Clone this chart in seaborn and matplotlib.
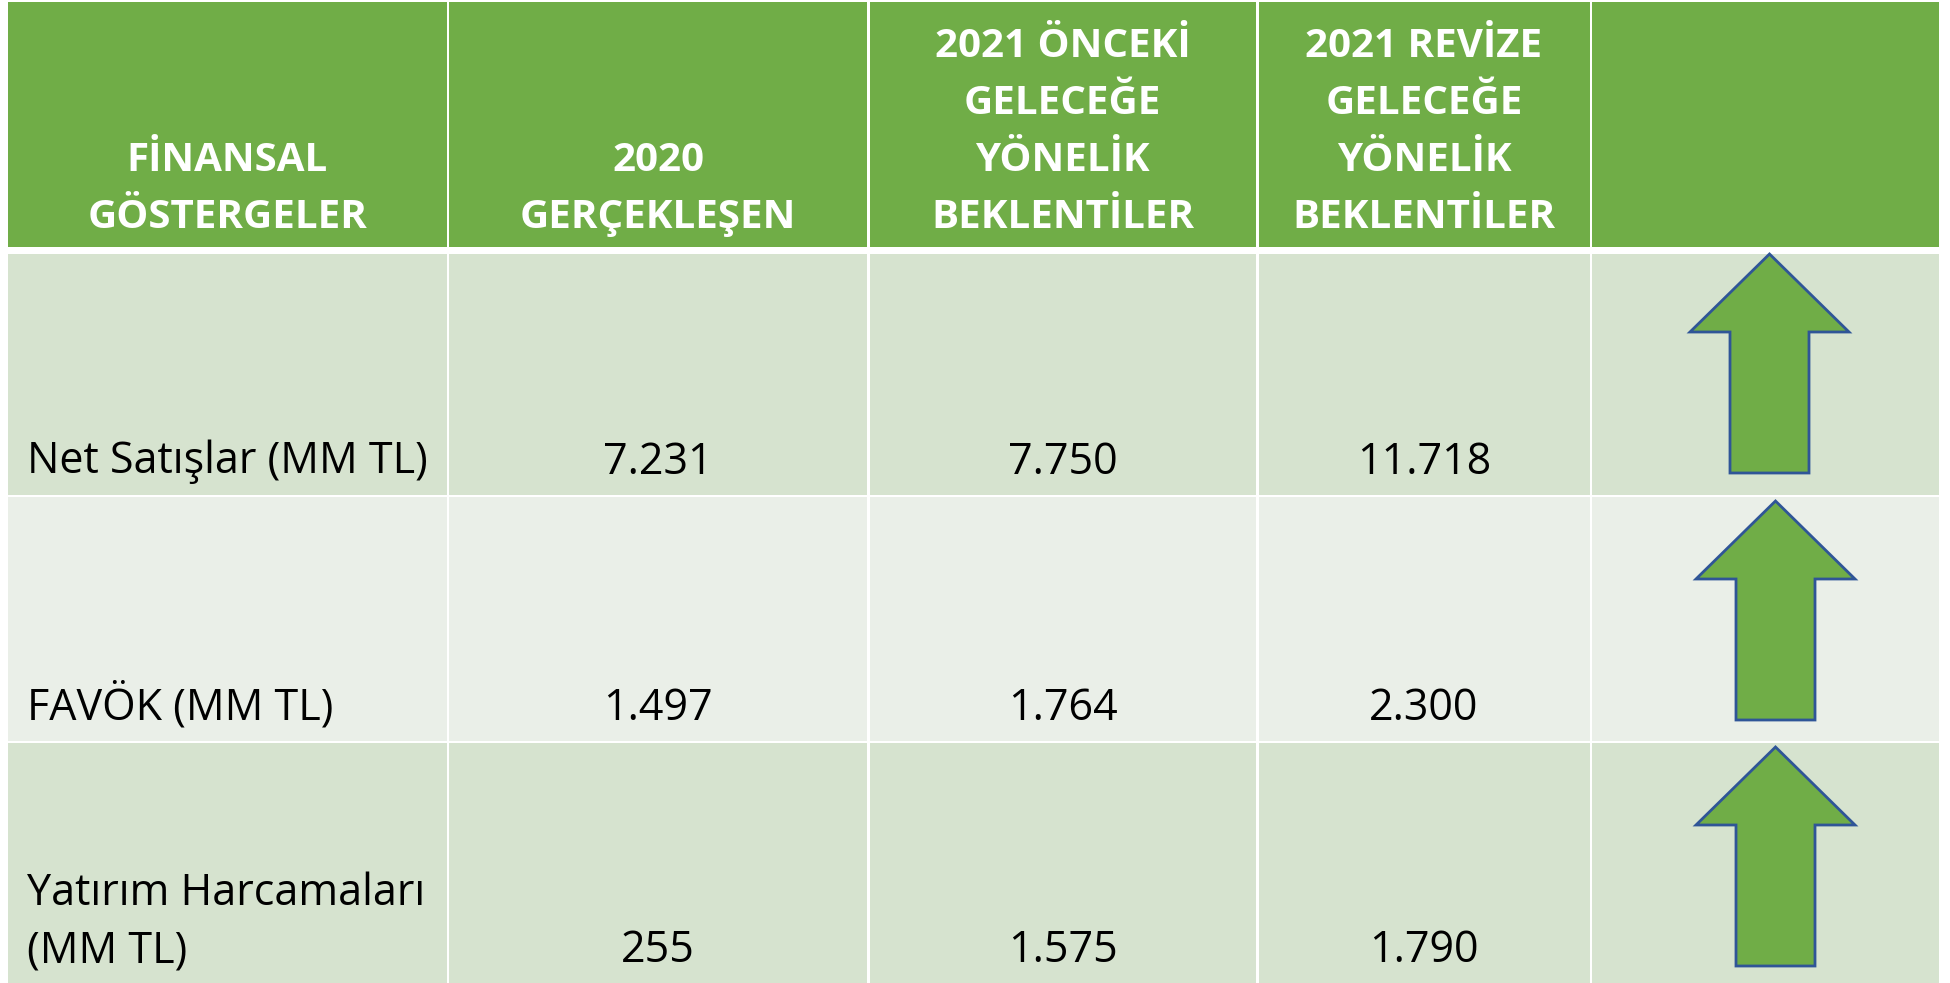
import matplotlib
matplotlib.use("Agg")
import matplotlib.pyplot as plt
import seaborn as sns
import numpy as np
from matplotlib.patches import Polygon

# table content
headers = ["FİNANSAL\nGÖSTERGELER", "2020\nGERÇEKLEŞEN",
           "2021 ÖNCEKİ\nGELECEĞE\nYÖNELİK\nBEKLENTİLER",
           "2021 REVİZE\nGELECEĞE\nYÖNELİK\nBEKLENTİLER", ""]
metrics = ["Net Satışlar (MM TL)", "FAVÖK (MM TL)", "Yatırım Harcamaları\n(MM TL)"]
actual_2020 = [7231, 1497, 255]
previous_2021 = [7750, 1764, 1575]
revised_2021 = [11718, 2300, 1790]
trend = ["up", "up", "up"]

sns.set_theme(style="white")
plt.rcParams['font.family'] = ['Open Sans', 'DejaVu Sans']

# layout (pixels)
col_edges = [7.7, 449, 869.5, 1258.5, 1592, 1939]
gap = 2.5
head_top, head_bot = 2.3, 247
row_tops = [254, 497, 743]
row_bots = [494.5, 740.5, 990]
line_h = 57

green = '#70AD47'
row_colors = ['#D6E3CF', '#EAEFE8', '#D6E3CF']

def fmt(v):
    return f"{v:,}".replace(",", ".")

fig = plt.figure(figsize=(19.5, 9.83), dpi=100)
ax = fig.add_axes([0, 0, 1, 1])
ax.set_xlim(0, 1950)
ax.set_ylim(983, 0)
ax.axis('off')

lefts = np.array(col_edges[:-1])
widths = np.diff(col_edges) - gap
widths[-1] += gap

# header cells
ax.barh(y=[(head_top + head_bot) / 2] * 5, width=widths, left=lefts,
        height=head_bot - head_top, color=green, linewidth=0)
for j, h in enumerate(headers):
    cx = lefts[j] + widths[j] / 2
    lines = h.split("\n")
    for k, ln in enumerate(lines):
        yb = 228 - (len(lines) - 1 - k) * line_h
        ax.text(cx, yb, ln, ha='center', va='baseline', color='white',
                fontsize=29, fontweight='bold')

# body rows
for i, m in enumerate(metrics):
    top, bot = row_tops[i], row_bots[i]
    ax.barh(y=[(top + bot) / 2] * 5, width=widths, left=lefts,
            height=bot - top, color=row_colors[i], linewidth=0)
    base = min(bot, 983) - 21
    lines = m.split("\n")
    for k, ln in enumerate(lines):
        ax.text(27, base - (len(lines) - 1 - k) * line_h, ln, ha='left',
                va='baseline', color='black', fontsize=31)
    vals = [actual_2020[i], previous_2021[i], revised_2021[i]]
    for j, v in enumerate(vals, start=1):
        ax.text(lefts[j] + widths[j] / 2, base, fmt(v), ha='center',
                va='baseline', color='black', fontsize=31)

    # arrow in last column
    if trend[i] == "up":
        cx = lefts[4] + widths[4] / 2 + (4 if i == 0 else 10)
        ty = top + (0 if i == 0 else 4)
        w, sw, hh, H = 159, 79, 78, 219
        pts = [(cx, ty), (cx + w / 2, ty + hh), (cx + sw / 2, ty + hh),
               (cx + sw / 2, ty + H), (cx - sw / 2, ty + H),
               (cx - sw / 2, ty + hh), (cx - w / 2, ty + hh)]
        ax.add_patch(Polygon(pts, closed=True, facecolor=green,
                             edgecolor='#2F5597', linewidth=2))

plt.savefig('out.png', dpi=100)
